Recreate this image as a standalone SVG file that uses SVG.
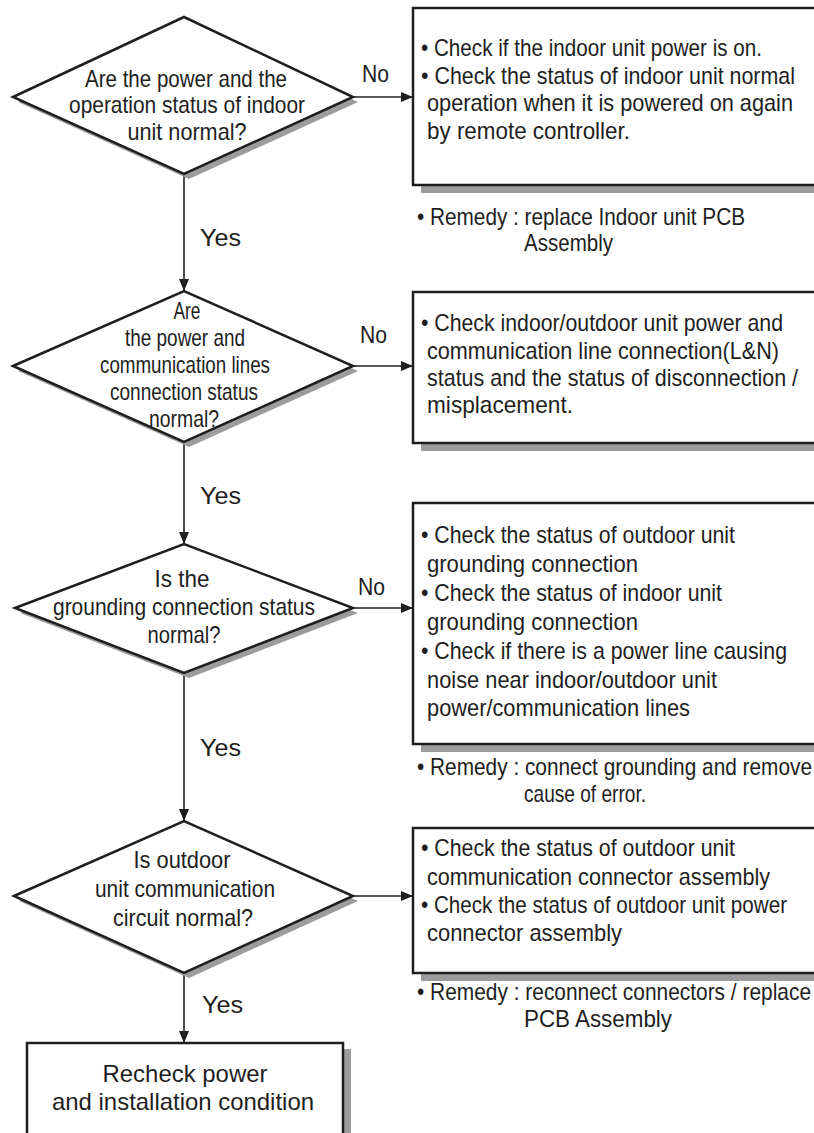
<svg xmlns="http://www.w3.org/2000/svg" width="814" height="1133" viewBox="0 0 814 1133">
<defs>
<style>
text{font-family:"Liberation Sans Narrow","Liberation Sans",Arial,sans-serif;font-size:24px;fill:#1e1e1e}
.c{text-anchor:middle}
.shape{fill:#fff;stroke:#1e1e1e;stroke-width:2.5}
.shadow{fill:#9c9c9c;stroke:none}
.conn{stroke:#1e1e1e;stroke-width:1.6;fill:none}
.lbl{font-size:24px}
</style>
<marker id="ah" markerUnits="userSpaceOnUse" markerWidth="12" markerHeight="10" refX="12" refY="5" orient="auto">
<path d="M0,0 L12,5 L0,10 z" fill="#1e1e1e"/>
</marker>
</defs>
<rect width="814" height="1133" fill="#fff"/>

<g id="connectors">
<line class="conn" x1="184" y1="175" x2="184" y2="291" marker-end="url(#ah)"/>
<line class="conn" x1="184" y1="443" x2="184" y2="544" marker-end="url(#ah)"/>
<line class="conn" x1="184" y1="674" x2="184" y2="821" marker-end="url(#ah)"/>
<line class="conn" x1="184" y1="974" x2="184" y2="1043" marker-end="url(#ah)"/>
<line class="conn" x1="353" y1="97" x2="413" y2="97" marker-end="url(#ah)"/>
<line class="conn" x1="353" y1="366" x2="413" y2="366" marker-end="url(#ah)"/>
<line class="conn" x1="353" y1="608" x2="413" y2="608" marker-end="url(#ah)"/>
<line class="conn" x1="353" y1="896" x2="413" y2="896" marker-end="url(#ah)"/>
<text class="lbl" x="362" y="82" textLength="27" lengthAdjust="spacingAndGlyphs">No</text>
<text class="lbl" x="360" y="343" textLength="27" lengthAdjust="spacingAndGlyphs">No</text>
<text class="lbl" x="358" y="595" textLength="27" lengthAdjust="spacingAndGlyphs">No</text>
<text class="lbl" x="200" y="246" textLength="41" lengthAdjust="spacingAndGlyphs">Yes</text>
<text class="lbl" x="200" y="504" textLength="41" lengthAdjust="spacingAndGlyphs">Yes</text>
<text class="lbl" x="200" y="756" textLength="41" lengthAdjust="spacingAndGlyphs">Yes</text>
<text class="lbl" x="202" y="1013" textLength="41" lengthAdjust="spacingAndGlyphs">Yes</text>
</g>

<g id="d1">
<polygon class="shadow" points="18,102 189,22 358,102 189,179"/>
<polygon class="shape" points="13,97 184,17 353,97 184,174"/>
<text class="c" x="186" y="87" textLength="202" lengthAdjust="spacingAndGlyphs">Are the power and the</text>
<text class="c" x="187" y="113" textLength="236" lengthAdjust="spacingAndGlyphs">operation status of indoor</text>
<text class="c" x="187" y="140" textLength="119" lengthAdjust="spacingAndGlyphs">unit normal?</text>
</g>

<g id="b1">
<rect class="shadow" x="421" y="16" width="400" height="177"/>
<rect class="shape" x="413" y="8" width="404" height="177"/>
<text x="421" y="56" textLength="341" lengthAdjust="spacingAndGlyphs">• Check if the indoor unit power is on.</text>
<text x="421" y="84" textLength="374" lengthAdjust="spacingAndGlyphs">• Check the status of indoor unit normal</text>
<text x="427" y="111" textLength="366" lengthAdjust="spacingAndGlyphs">operation when it is powered on again</text>
<text x="427" y="139" textLength="203" lengthAdjust="spacingAndGlyphs">by remote controller.</text>
</g>

<g id="r1">
<text x="417" y="225" textLength="328" lengthAdjust="spacingAndGlyphs">• Remedy : replace Indoor unit PCB</text>
<text x="524" y="251" textLength="89" lengthAdjust="spacingAndGlyphs">Assembly</text>
</g>

<g id="d2">
<polygon class="shadow" points="18,371 189,296 358,371 189,447"/>
<polygon class="shape" points="13,366 184,291 353,366 184,442"/>
<text class="c" x="187" y="319" textLength="27" lengthAdjust="spacingAndGlyphs">Are</text>
<text class="c" x="185" y="346" textLength="120" lengthAdjust="spacingAndGlyphs">the power and</text>
<text class="c" x="185" y="373" textLength="170" lengthAdjust="spacingAndGlyphs">communication lines</text>
<text class="c" x="184" y="400" textLength="148" lengthAdjust="spacingAndGlyphs">connection status</text>
<text class="c" x="184" y="427" textLength="70" lengthAdjust="spacingAndGlyphs">normal?</text>
</g>

<g id="b2">
<rect class="shadow" x="421" y="300" width="400" height="151"/>
<rect class="shape" x="413" y="292" width="404" height="151"/>
<text x="421" y="331" textLength="362" lengthAdjust="spacingAndGlyphs">• Check indoor/outdoor unit power and</text>
<text x="427" y="359" textLength="352" lengthAdjust="spacingAndGlyphs">communication line connection(L&amp;N)</text>
<text x="427" y="386" textLength="371" lengthAdjust="spacingAndGlyphs">status and the status of disconnection /</text>
<text x="427" y="413" textLength="146" lengthAdjust="spacingAndGlyphs">misplacement.</text>
</g>

<g id="d3">
<polygon class="shadow" points="20,613 189,549 358,613 189,678"/>
<polygon class="shape" points="15,608 184,544 353,608 184,673"/>
<text class="c" x="182" y="587" textLength="55" lengthAdjust="spacingAndGlyphs">Is the</text>
<text class="c" x="184" y="615" textLength="262" lengthAdjust="spacingAndGlyphs">grounding connection status</text>
<text class="c" x="184" y="643" textLength="73" lengthAdjust="spacingAndGlyphs">normal?</text>
</g>

<g id="b3">
<rect class="shadow" x="421" y="511" width="400" height="241"/>
<rect class="shape" x="413" y="503" width="404" height="241"/>
<text x="421" y="543" textLength="314" lengthAdjust="spacingAndGlyphs">• Check the status of outdoor unit</text>
<text x="427" y="572" textLength="211" lengthAdjust="spacingAndGlyphs">grounding connection</text>
<text x="421" y="601" textLength="301" lengthAdjust="spacingAndGlyphs">• Check the status of indoor unit</text>
<text x="427" y="630" textLength="211" lengthAdjust="spacingAndGlyphs">grounding connection</text>
<text x="421" y="659" textLength="366" lengthAdjust="spacingAndGlyphs">• Check if there is a power line causing</text>
<text x="427" y="688" textLength="290" lengthAdjust="spacingAndGlyphs">noise near indoor/outdoor unit</text>
<text x="427" y="716" textLength="263" lengthAdjust="spacingAndGlyphs">power/communication lines</text>
</g>

<g id="r3">
<text x="417" y="775" textLength="395" lengthAdjust="spacingAndGlyphs">• Remedy : connect grounding and remove</text>
<text x="524" y="802" textLength="122" lengthAdjust="spacingAndGlyphs">cause of error.</text>
</g>

<g id="d4">
<polygon class="shadow" points="19,901 189,826 358,901 189,978"/>
<polygon class="shape" points="14,896 184,821 353,896 184,973"/>
<text class="c" x="182" y="868" textLength="97" lengthAdjust="spacingAndGlyphs">Is outdoor</text>
<text class="c" x="185" y="897" textLength="180" lengthAdjust="spacingAndGlyphs">unit communication</text>
<text class="c" x="183" y="926" textLength="140" lengthAdjust="spacingAndGlyphs">circuit normal?</text>
</g>

<g id="b4">
<rect class="shadow" x="421" y="836" width="400" height="145"/>
<rect class="shape" x="413" y="828" width="404" height="145"/>
<text x="421" y="856" textLength="314" lengthAdjust="spacingAndGlyphs">• Check the status of outdoor unit</text>
<text x="427" y="885" textLength="343" lengthAdjust="spacingAndGlyphs">communication connector assembly</text>
<text x="421" y="913" textLength="366" lengthAdjust="spacingAndGlyphs">• Check the status of outdoor unit power</text>
<text x="427" y="941" textLength="195" lengthAdjust="spacingAndGlyphs">connector assembly</text>
</g>

<g id="r4">
<text x="417" y="1000" textLength="394" lengthAdjust="spacingAndGlyphs">• Remedy : reconnect connectors / replace</text>
<text x="524" y="1027" textLength="148" lengthAdjust="spacingAndGlyphs">PCB Assembly</text>
</g>

<g id="end">
<rect class="shadow" x="35" y="1049" width="316" height="100"/>
<rect class="shape" x="27" y="1043" width="316" height="100"/>
<text class="c" x="185" y="1082" textLength="165" lengthAdjust="spacingAndGlyphs">Recheck power</text>
<text class="c" x="183" y="1110" textLength="262" lengthAdjust="spacingAndGlyphs">and installation condition</text>
</g>
</svg>
